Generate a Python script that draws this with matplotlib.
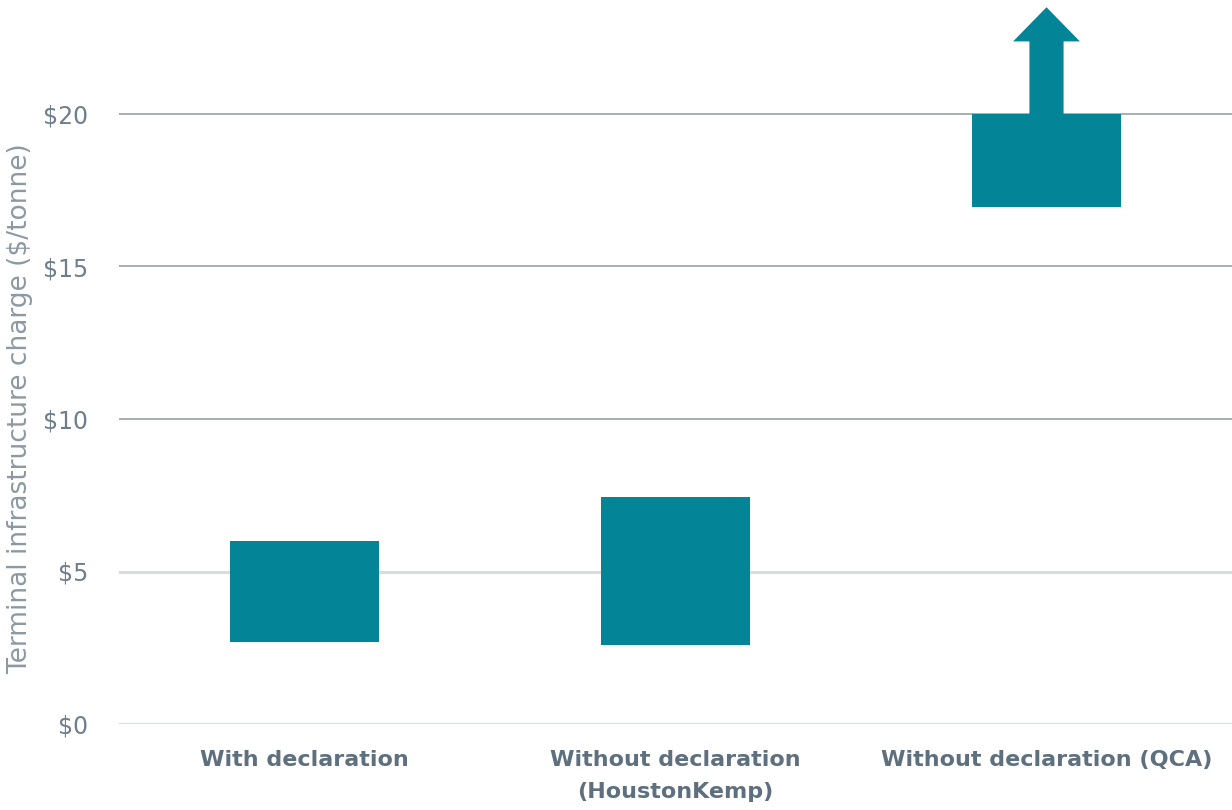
import matplotlib
matplotlib.use("Agg")
import matplotlib.pyplot as plt

# data: floating range per scenario ($/tonne)
categories = ["With declaration", "Without declaration\n(HoustonKemp)", "Without declaration (QCA)"]
range_low = [2.7, 2.6, 16.95]
range_high = [6.0, 7.45, 20.0]
# QCA estimate goes beyond the chart -> arrow from top of bar
arrow_tip = 23.5

y_ticks = [0, 5, 10, 15, 20]
y_tick_labels = ["$0", "$5", "$10", "$15", "$20"]

TEAL = "#038597"
TICK_GRAY = "#6E7E8C"
LABEL_GRAY = "#5E6F7E"

plt.rcParams["font.family"] = ["DejaVu Sans"]

fig = plt.figure(figsize=(12.32, 8.10), dpi=100)
ax = fig.add_axes([119 / 1232, 86 / 810, 1113 / 1232, 724 / 810])

# gridlines (upper ones render darker in the original)
for v in y_ticks:
    if v >= 10:
        ax.axhline(v, color="#A9AEB3", lw=1.4, zorder=0)
    else:
        ax.axhline(v, color="#D9DCDF", lw=2.2, zorder=0)

x = list(range(len(categories)))
heights = [h - l for h, l in zip(range_high, range_low)]
ax.bar(x, heights, bottom=range_low, width=0.40, color=TEAL, zorder=2)

# upward arrow on QCA bar
ax.arrow(x[2], range_high[2], 0, arrow_tip - range_high[2], width=0.092,
         head_width=0.18, head_length=1.12, length_includes_head=True,
         color=TEAL, zorder=2, lw=0)

ax.set_xlim(-0.5, 2.5)
ax.set_ylim(0, 724 / 30.5)
ax.set_yticks(y_ticks)
ax.set_yticklabels(y_tick_labels, fontsize=17, color=TICK_GRAY)
ax.set_xticks(x)
ax.set_xticklabels(categories, fontsize=16, color=LABEL_GRAY, fontweight="bold",
                   linespacing=1.75, va="top")
ax.tick_params(axis="both", length=0)
ax.tick_params(axis="x", pad=19)
ax.tick_params(axis="y", pad=22)
for s in ax.spines.values():
    s.set_visible(False)

ax.set_ylabel("Terminal infrastructure charge ($/tonne)", fontsize=19,
              color="#8C99A3")
ax.yaxis.set_label_coords(-86 / 1113, 0.435)

fig.savefig("out.png", dpi=100)
